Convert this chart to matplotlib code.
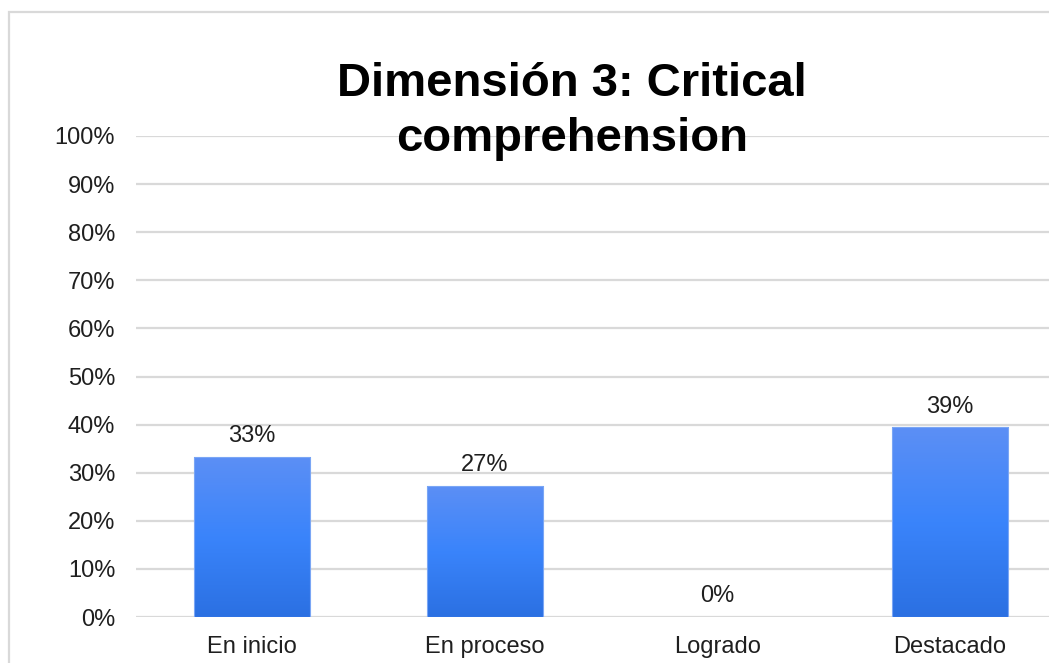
import matplotlib
matplotlib.use("Agg")
import matplotlib.pyplot as plt
import numpy as np
from matplotlib.colors import LinearSegmentedColormap
from matplotlib.patches import Rectangle

categories = ["En inicio", "En proceso", "Logrado", "Destacado"]
values = [33.3, 27.3, 0.0, 39.4]
y_ticks = list(range(0, 101, 10))
title = "Dimensión 3: Critical\ncomprehension"

plt.rcParams["font.family"] = ["Liberation Sans", "DejaVu Sans"]
TEXT = "#1f1f1f"
GRID = "#d9d9d9"

bar_cmap = LinearSegmentedColormap.from_list(
    "bar_blue", ["#2b70e2", "#3a84fb", "#5c8ff5"]
)

fig = plt.figure(figsize=(10.49, 6.63), dpi=100)
W, H = 1049, 663

# outer chart frame, running off the right and bottom edges
fig.patches.append(Rectangle((9 / W, -0.1), 1.2, 1 - 12 / H + 0.1,
                             transform=fig.transFigure, fill=False,
                             edgecolor=GRID, linewidth=1.6))

ax = fig.add_axes([136 / W, 1 - 617 / H, 1 - 136 / W, (617 - 136) / H])
x = np.arange(len(categories))
bars = ax.bar(x, values, width=0.5, color="none", edgecolor="none", zorder=3)

xlim = (-0.5, (W - 136) / 232.5 - 0.5)
ylim = (0, 100)

grad = np.linspace(0, 1, 256).reshape(-1, 1)
for bar, v in zip(bars, values):
    if v <= 0:
        continue
    x0 = bar.get_x()
    x1 = x0 + bar.get_width()
    img = ax.imshow(grad, cmap=bar_cmap, origin="lower", aspect="auto",
                    extent=[x0, x1, 0, v], zorder=3)
    img.set_clip_path(bar)
    ax.add_patch(Rectangle((x0, 0), x1 - x0, v, fill=False,
                           edgecolor="#7aa6f5", linewidth=0.8, zorder=4))

for xi, v in zip(x, values):
    ax.annotate(f"{v:.0f}%", (xi, v), xytext=(0, 7), textcoords="offset points",
                ha="center", va="bottom", fontsize=17, color=TEXT)

ax.set_xlim(*xlim)
ax.set_ylim(*ylim)
ax.set_yticks(y_ticks)
ax.set_yticklabels([f"{t}%" for t in y_ticks])
ax.set_xticks(x)
ax.set_xticklabels(categories)
ax.tick_params(axis="both", length=0, labelsize=17, colors=TEXT)
ax.tick_params(axis="y", pad=15)
ax.tick_params(axis="x", pad=14)
ax.yaxis.grid(True, color=GRID, linewidth=1.6, zorder=0)
ax.set_axisbelow(True)
for s in ax.spines.values():
    s.set_visible(False)

fig.text(572 / W, 1 - 62 / H, title, ha="center", va="top", fontsize=34,
         fontweight="bold", color="black", linespacing=1.32)

fig.savefig("out.png", dpi=100)
